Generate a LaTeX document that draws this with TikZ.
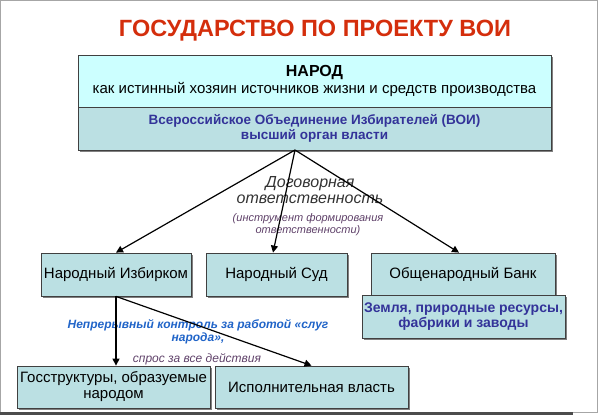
\documentclass[tikz,border=0pt]{standalone}
\usepackage{fontspec}
\setmainfont{Liberation Sans}
\usetikzlibrary{arrows.meta,shadows}
\definecolor{titlered}{RGB}{212,46,12}
\definecolor{topcyan}{RGB}{204,255,255}
\definecolor{boxteal}{RGB}{187,224,227}
\definecolor{voiblue}{RGB}{51,51,153}
\definecolor{kontrblue}{RGB}{32,100,200}
\definecolor{notegray}{RGB}{95,65,105}
\begin{document}
\begin{tikzpicture}[x=1pt,y=-1pt]
	\tikzstyle{every node}+=[inner sep=0pt, align=center]
	\tikzstyle{box}=[draw=black!75, line width=0.8pt, fill=boxteal, minimum height=43pt, drop shadow={shadow xshift=1.6pt, shadow yshift=-1.6pt, fill=black!50, opacity=1}, font=\fontsize{15}{17}\selectfont]
	\tikzstyle{arrow}=[black, line width=1.2pt, -{Triangle[length=7pt,width=7pt]}]
	\useasboundingbox (0,0) rectangle (600,415);
	\draw [black!35] (0.5,0.5) rectangle (597.5,412);
	\draw [black!70, line width=3pt] (0,413.5) -- (573,413.5);
	\node [text=titlered, font=\fontsize{23.5}{25}\selectfont\bfseries] (title) at (315,31) {ГОСУДАРСТВО ПО ПРОЕКТУ ВОИ};
	\node [box, fill=topcyan, minimum width=473pt, minimum height=52pt] (narod) at (314.5,81) {{\fontsize{16}{20}\selectfont\bfseries НАРОД}\\как истинный хозяин источников жизни и средств производства};
	\node [box, minimum width=473pt, text=voiblue, font=\fontsize{13.5}{15.5}\selectfont\bfseries] (voi) at (314.5,128.5) {Всероссийское Объединение Избирателей (ВОИ)\\высший орган власти};
	\node [box, minimum width=150pt] (izb) at (116,274.5) {Народный Избирком};
	\node [box, minimum width=141pt] (sud) at (276.5,274.5) {Народный Суд};
	\node [box, minimum width=184pt] (bank) at (463,274.5) {Общенародный Банк};
	\node [box, minimum width=203pt, text=voiblue, font=\fontsize{14}{15.5}\selectfont\bfseries] (land) at (463.5,316.5) {Земля, природные ресурсы,\\фабрики и заводы};
	\node [box, minimum width=193pt, minimum height=42pt, font=\fontsize{15}{16}\selectfont] (gos) at (113.5,387) {Госструктуры, образуемые\\народом};
	\node [box, minimum width=193pt, minimum height=42pt, font=\fontsize{15}{16}\selectfont] (isp) at (311.5,387) {Исполнительная власть};
	\node [text=black!80, font=\fontsize{16}{16}\selectfont\itshape] (dog) at (310,190) {Договорная\\ответственность};
	\node [text=notegray, font=\fontsize{11}{11.5}\selectfont\itshape] (instr) at (308,224.5) {(инструмент формирования\\ответственности)};
	\node [text=kontrblue, font=\fontsize{12}{13}\selectfont\bfseries\itshape] (kontr) at (198,331.5) {Непрерывный контроль за работой «слуг\\народа»,};
	\node [text=notegray, font=\fontsize{12}{13}\selectfont\itshape] (spros) at (197,359) {спрос за все действия};
	\coordinate (apex) at (295,150);
	\draw [arrow] (apex) -- (izb.north);
	\draw [arrow] (apex) -- ([xshift=-3.5pt]sud.north);
	\draw [arrow] (apex) -- ([xshift=-4pt]bank.north);
	\draw [arrow] (izb.south) -- (izb.south |- gos.north);
	\draw [arrow] (izb.south) -- (isp.north);
\end{tikzpicture}
\end{document}
